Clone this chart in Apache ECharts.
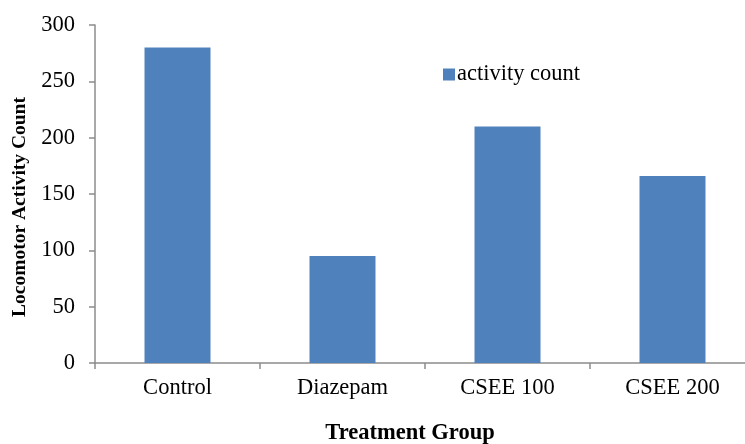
<!DOCTYPE html>
<html><head><meta charset="utf-8">
<script src="https://cdn.jsdelivr.net/npm/echarts@6/dist/echarts.min.js"></script>
<style>html,body{margin:0;padding:0;background:#fff}#c{width:745px;height:444px}</style>
</head><body><div id="c"></div>
<script>
const categories = ['Control', 'Diazepam', 'CSEE 100', 'CSEE 200'];
const activityCount = [280, 95, 210, 166];
const seriesName = 'activity count';
const yTicks = {min: 0, max: 300, interval: 50};
const xTitle = 'Treatment Group';
const yTitle = 'Locomotor Activity Count';

const FONT = 'Liberation Serif';
const chart = echarts.init(document.getElementById('c'), null, {renderer: 'canvas'});
chart.setOption({
  animation: false,
  backgroundColor: '#ffffff',
  grid: {left: 95, top: 25, height: 338, width: 660, containLabel: false, outerBoundsMode: 'none'},
  legend: {
    left: 438, top: 58, itemWidth: 12, itemHeight: 12, itemGap: 10,
    icon: 'rect',
    textStyle: {fontFamily: FONT, fontSize: 22.5, color: '#000', padding: [0, 0, 0, -3]},
    data: [seriesName]
  },
  xAxis: {
    type: 'category', data: categories,
    axisLine: {lineStyle: {color: '#8c8c8c', width: 1.5}},
    axisTick: {show: true, length: 6, lineStyle: {color: '#8c8c8c', width: 1.5}},
    axisLabel: {fontFamily: FONT, fontSize: 22.5, color: '#000', margin: 14}
  },
  yAxis: {
    type: 'value', min: yTicks.min, max: yTicks.max, interval: yTicks.interval,
    axisLine: {show: true, lineStyle: {color: '#8c8c8c', width: 1.5}},
    axisTick: {show: true, length: 6, lineStyle: {color: '#8c8c8c', width: 1.5}},
    splitLine: {show: false},
    axisLabel: {fontFamily: FONT, fontSize: 22.5, color: '#000', margin: 20}
  },
  graphic: [
    {type: 'text', x: 410, y: 433, style: {text: xTitle, fontFamily: FONT, fontWeight: 'bold', fontSize: 22.5, fill: '#000', textAlign: 'center', textVerticalAlign: 'middle'}},
    {type: 'text', x: 20, y: 207, rotation: Math.PI / 2, style: {text: yTitle, fontFamily: FONT, fontWeight: 'bold', fontSize: 19.5, fill: '#000', textAlign: 'center', textVerticalAlign: 'middle'}}
  ],
  series: [{
    name: seriesName, type: 'bar', data: activityCount, barWidth: '40%',
    itemStyle: {color: '#4f81bd'}
  }]
});
</script></body></html>
